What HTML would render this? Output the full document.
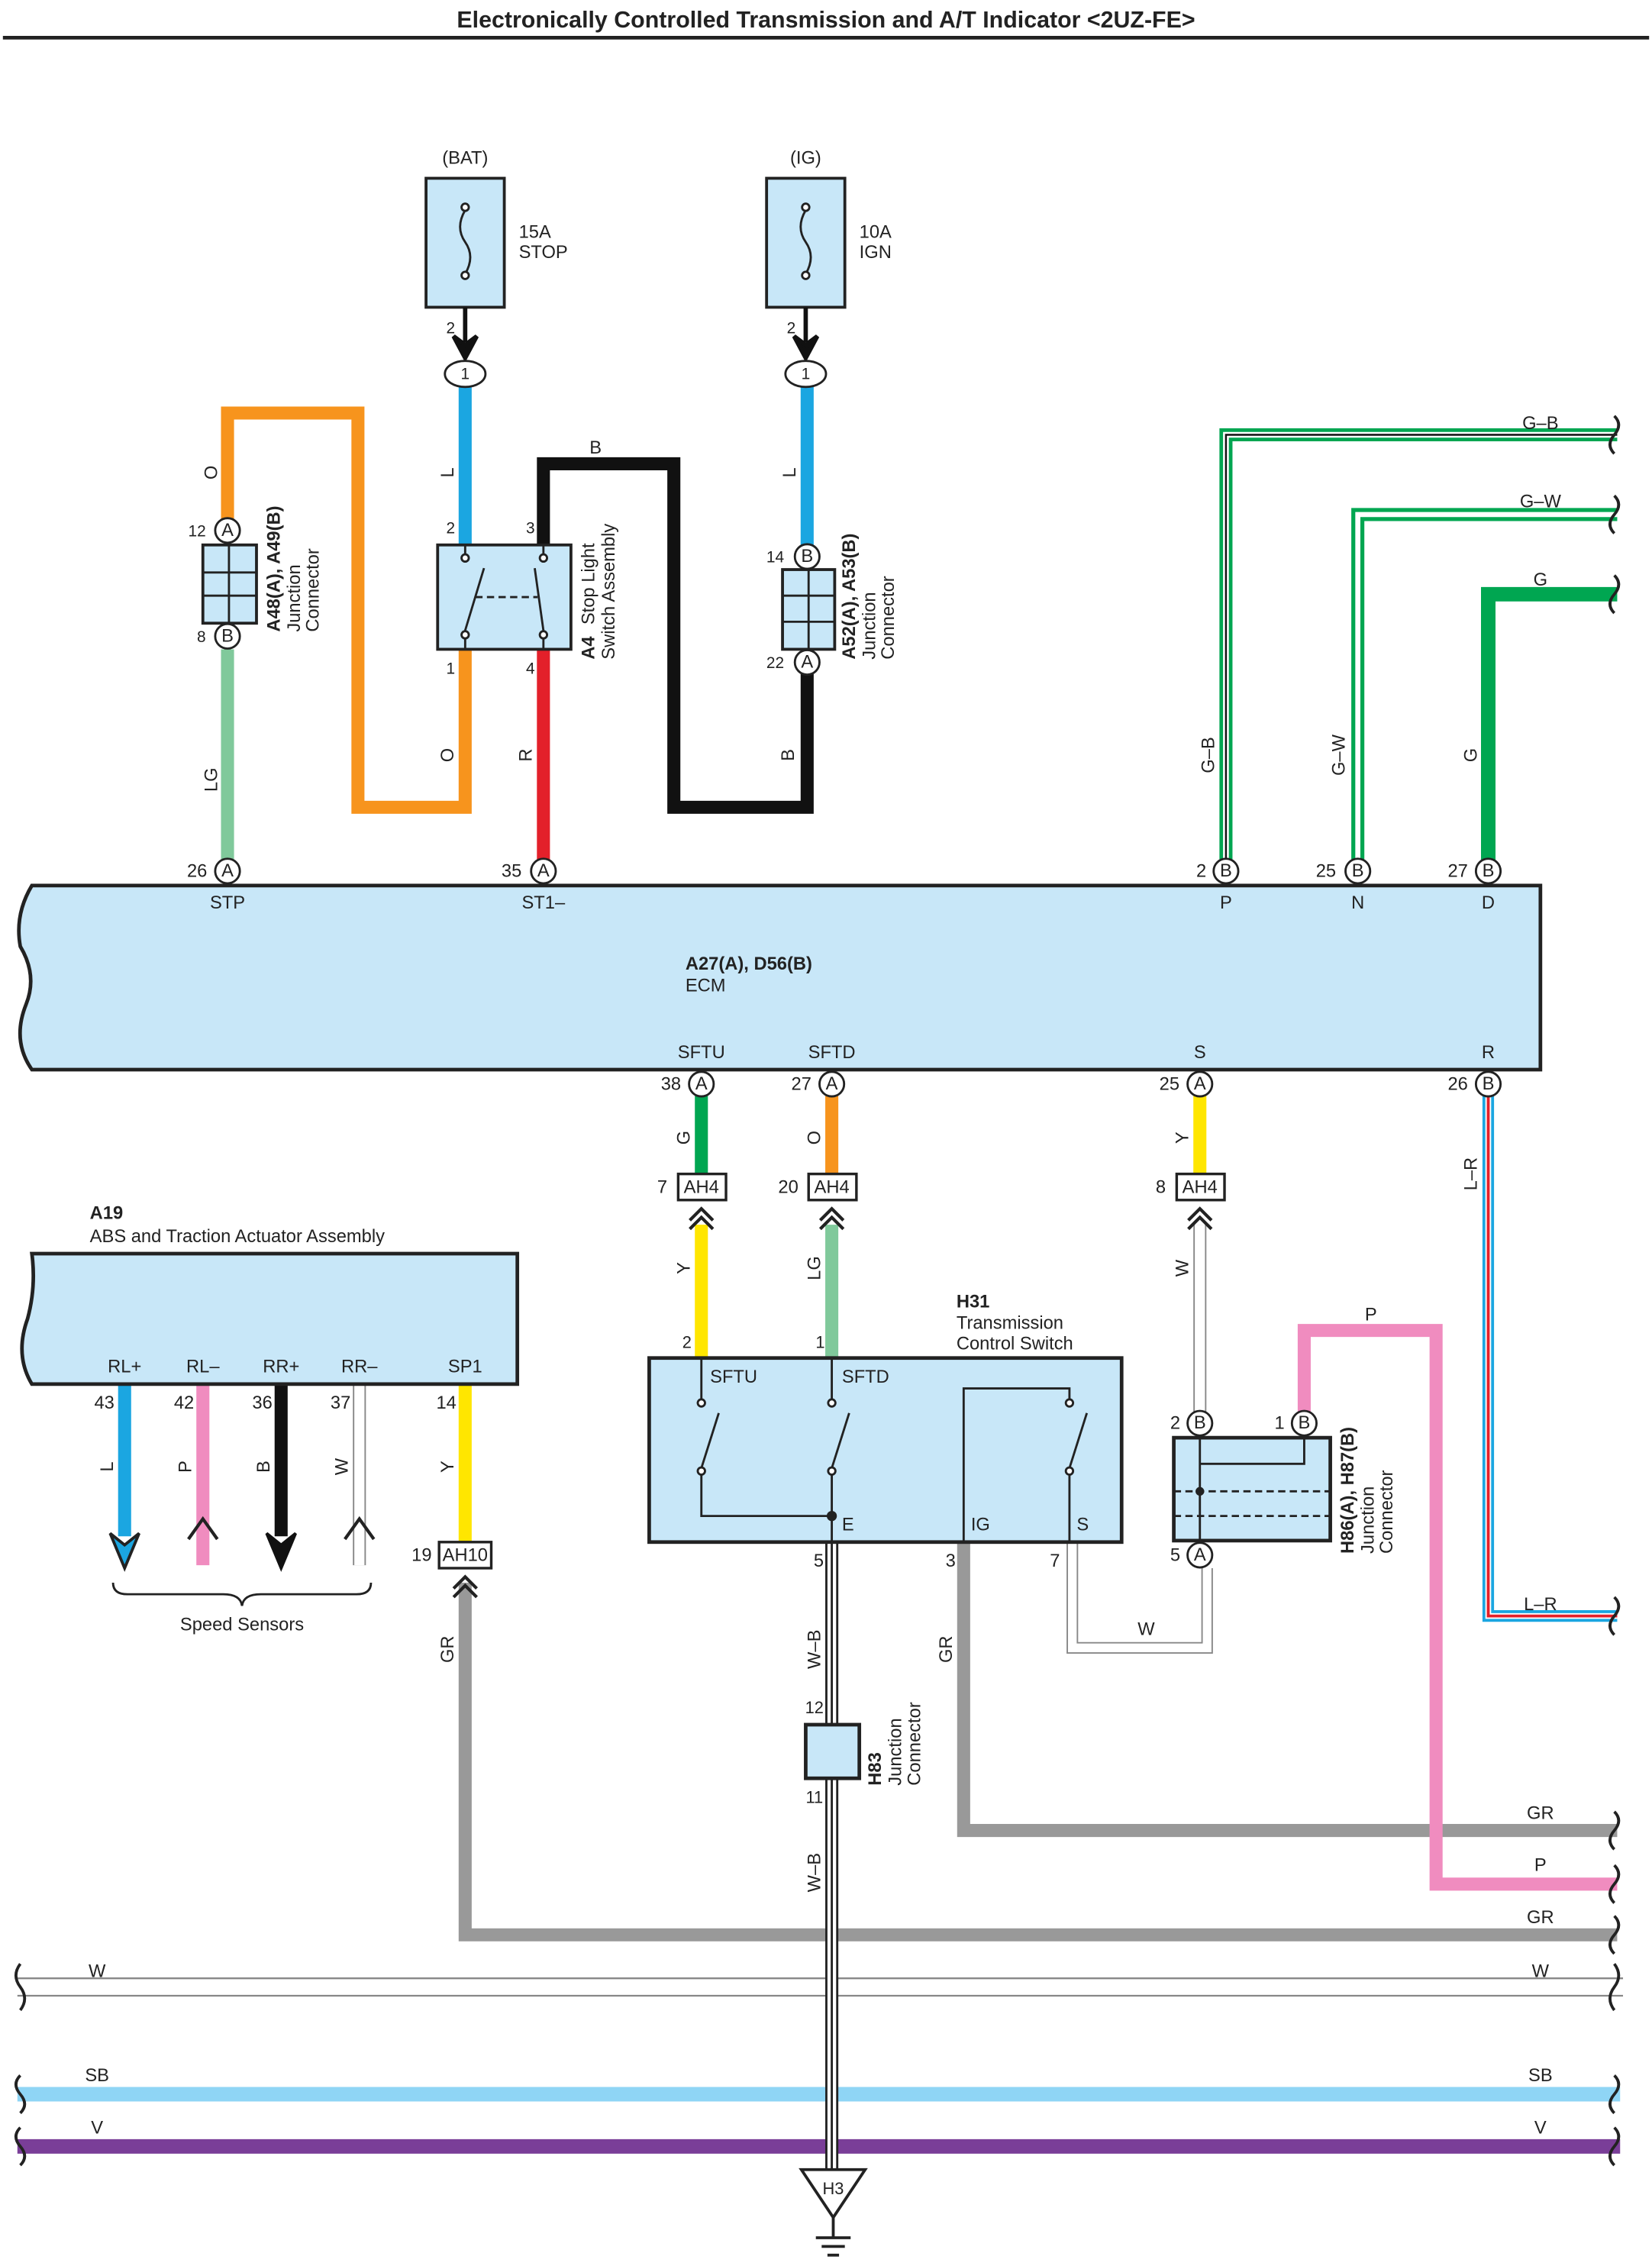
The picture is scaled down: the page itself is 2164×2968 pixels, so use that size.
<!DOCTYPE html>
<html><head><meta charset="utf-8"><style>
html,body{margin:0;padding:0;background:#fff}
svg{display:block}
text{font-family:"Liberation Sans",Arial,sans-serif;font-size:12.5px;fill:#222}
.b{font-weight:bold}
.pin{fill:#fff;stroke:#222;stroke-width:1.5}
.pt{font-size:11px;text-anchor:middle;dominant-baseline:central}
.c{text-anchor:middle}
</style></head><body>
<svg width="2164" height="2968" viewBox="0 0 1140 1563.5" preserveAspectRatio="none" xmlns="http://www.w3.org/2000/svg">
<rect width="1140" height="1563.5" fill="#fff"/>
<text x="570" y="19" class="c b" style="font-size:16px">Electronically Controlled Transmission and A/T Indicator &lt;2UZ-FE&gt;</text>
<line x1="2" y1="26" x2="1138" y2="26" stroke="#222" stroke-width="2.5"/>

<!-- ===== WIRES (drawn first) ===== -->
<g fill="none" stroke-linejoin="miter">
<!-- orange O -->
<path d="M321 448 V557 H247 V285 H157 V366" stroke="#f7941d" stroke-width="9"/>
<!-- blue L BAT -->
<path d="M321 267 V378" stroke="#1ba6e1" stroke-width="9"/>
<!-- blue L IG -->
<path d="M557 267 V378" stroke="#1ba6e1" stroke-width="9"/>
<!-- black B -->
<path d="M375 378 V320 H465 V557 H557 V465" stroke="#111" stroke-width="9"/>
<!-- red R -->
<path d="M375 448 V596" stroke="#e3202a" stroke-width="9"/>
<!-- LG -->
<path d="M157 448 V596" stroke="#80c99b" stroke-width="9"/>
<!-- G-B -->
<path d="M846 596 V300 H1116" stroke="#00a651" stroke-width="9"/>
<path d="M846 596 V300 H1116" stroke="#fff" stroke-width="4"/>
<path d="M846 596 V300 H1116" stroke="#111" stroke-width="1.3"/>
<!-- G-W -->
<path d="M937 596 V355 H1116" stroke="#00a651" stroke-width="9"/>
<path d="M937 596 V355 H1116" stroke="#fff" stroke-width="3.5"/>
<!-- G -->
<path d="M1027 596 V410 H1116" stroke="#00a651" stroke-width="10"/>
<!-- L-R -->
<path d="M1027 755 V1115 H1116" stroke="#1ba6e1" stroke-width="8"/>
<path d="M1027 755 V1115 H1116" stroke="#fff" stroke-width="4"/>
<path d="M1027 755 V1115 H1116" stroke="#e3202a" stroke-width="2"/>
<!-- ECM bottom wires -->
<path d="M484 756 V810" stroke="#00a651" stroke-width="9"/>
<path d="M574 756 V810" stroke="#f7941d" stroke-width="9"/>
<path d="M828 756 V810" stroke="#ffe600" stroke-width="9"/>
<path d="M484 845 V937" stroke="#ffe600" stroke-width="9"/>
<path d="M574 845 V937" stroke="#80c99b" stroke-width="9"/>
<path d="M828 845 V974" stroke="#888" stroke-width="9"/>
<path d="M828 845 V974" stroke="#fff" stroke-width="7"/>
<!-- A19 wires -->
<path d="M86 955 V1060" stroke="#1ba6e1" stroke-width="9"/>
<path d="M140 955 V1080" stroke="#f08cbf" stroke-width="9"/>
<path d="M194 955 V1060" stroke="#111" stroke-width="9"/>
<path d="M248 955 V1080" stroke="#888" stroke-width="9"/>
<path d="M248 955 V1080" stroke="#fff" stroke-width="7"/>
<path d="M321 955 V1064" stroke="#ffe600" stroke-width="9"/>
<!-- GR from AH10 -->
<path d="M321 1092 V1335 H1116" stroke="#999" stroke-width="9"/>
<!-- GR from IG -->
<path d="M665 1064 V1263 H1116" stroke="#999" stroke-width="9"/>
<!-- P pink -->
<path d="M900 974 V918 H991 V1300 H1116" stroke="#f08cbf" stroke-width="9"/>
<!-- W from S -->
<path d="M740 1064 V1137 H833 V1082" stroke="#888" stroke-width="8"/>
<path d="M740 1064 V1137 H833 V1082" stroke="#fff" stroke-width="6"/>
<!-- buses -->
<line x1="12" y1="1365" x2="1120" y2="1365" stroke="#888" stroke-width="1.2"/>
<line x1="12" y1="1377" x2="1120" y2="1377" stroke="#888" stroke-width="1.2"/>
<line x1="12" y1="1445" x2="1118" y2="1445" stroke="#8fd5f5" stroke-width="10"/>
<line x1="12" y1="1481" x2="1118" y2="1481" stroke="#7a3e98" stroke-width="10"/>
<!-- W-B ground wire -->
<path d="M574 1064 V1190 M574 1227 V1497" stroke="#222" stroke-width="9"/>
<path d="M574 1064 V1190 M574 1227 V1497" stroke="#fff" stroke-width="6"/>
<path d="M574 1064 V1190 M574 1227 V1497" stroke="#222" stroke-width="1.5"/>
</g>

<!-- wavy break marks -->
<g fill="none" stroke="#222" stroke-width="2">
<path d="M1114 287 q6 6 0 13 q-6 7 0 13"/>
<path d="M1114 342 q6 6 0 13 q-6 7 0 13"/>
<path d="M1114 397 q6 6 0 13 q-6 7 0 13"/>
<path d="M1114 1102 q6 6 0 13 q-6 7 0 13"/>
<path d="M1114 1250 q6 6 0 13 q-6 7 0 13"/>
<path d="M1114 1287 q6 6 0 13 q-6 7 0 13"/>
<path d="M1114 1322 q6 6 0 13 q-6 7 0 13"/>
<path d="M1114 1355 q6 8 0 16 q-6 8 0 16"/>
<path d="M1114 1432 q6 6 0 13 q-6 7 0 13"/>
<path d="M1114 1468 q6 6 0 13 q-6 7 0 13"/>
<path d="M14 1355 q-6 8 0 16 q6 8 0 16"/>
<path d="M14 1432 q-6 6 0 13 q6 7 0 13"/>
<path d="M14 1468 q-6 6 0 13 q6 7 0 13"/>
</g>

<!-- ===== FUSES ===== -->
<g stroke="#222" stroke-width="2">
<rect x="294" y="123" width="54" height="89" fill="#c8e7f8"/>
<rect x="529" y="123" width="54" height="89" fill="#c8e7f8"/>
</g>
<g fill="none" stroke="#222" stroke-width="1.5">
<path d="M321 145 q-7 12 0 22 q7 10 0 22"/>
<path d="M556 145 q-7 12 0 22 q7 10 0 22"/>
</g>
<g class="pin"><circle cx="321" cy="143" r="2.5"/><circle cx="321" cy="190" r="2.5"/><circle cx="556" cy="143" r="2.5"/><circle cx="556" cy="190" r="2.5"/></g>
<text x="321" y="113" class="c">(BAT)</text><text x="556" y="113" class="c">(IG)</text>
<text x="358" y="164">15A</text><text x="358" y="178">STOP</text>
<text x="593" y="164">10A</text><text x="593" y="178">IGN</text>
<text x="311" y="230" class="c" style="font-size:11px">2</text><text x="546" y="230" class="c" style="font-size:11px">2</text>
<g stroke="#111" stroke-width="3" fill="#111">
<line x1="321" y1="212" x2="321" y2="236"/><path d="M313 232 L321 247 L329 232 L321 238Z"/>
<line x1="556" y1="212" x2="556" y2="236"/><path d="M548 232 L556 247 L564 232 L556 238Z"/>
</g>
<ellipse cx="321" cy="258" rx="14" ry="9" class="pin" stroke-width="2"/><text x="321" y="258" class="pt">1</text>
<ellipse cx="556" cy="258" rx="14" ry="9" class="pin" stroke-width="2"/><text x="556" y="258" class="pt">1</text>

<!-- ===== A4 switch ===== -->
<rect x="302" y="376" width="92" height="72" fill="#c8e7f8" stroke="#222" stroke-width="2"/>
<g fill="none" stroke="#222" stroke-width="1.5">
<line x1="321" y1="376" x2="321" y2="385"/><line x1="321" y1="438" x2="321" y2="448"/>
<line x1="375" y1="376" x2="375" y2="385"/><line x1="375" y1="438" x2="375" y2="448"/>
<line x1="321" y1="435" x2="334" y2="392"/><line x1="375" y1="435" x2="369" y2="392"/>
<line x1="328" y1="412" x2="371" y2="412" stroke-dasharray="5 3"/>
</g>
<g class="pin"><circle cx="321" cy="385" r="2.5"/><circle cx="321" cy="438" r="2.5"/><circle cx="375" cy="385" r="2.5"/><circle cx="375" cy="438" r="2.5"/></g>
<text x="311" y="368" class="c" style="font-size:11px">2</text><text x="366" y="368" class="c" style="font-size:11px">3</text>
<text x="311" y="465" class="c" style="font-size:11px">1</text><text x="366" y="465" class="c" style="font-size:11px">4</text>
<g transform="translate(410,455) rotate(-90)"><text x="0" y="0" class="b">A4</text><text x="24" y="0">Stop Light</text><text x="0" y="14">Switch Assembly</text></g>

<!-- ===== A48 junction ===== -->
<rect x="140" y="376" width="37" height="54" fill="#c8e7f8" stroke="#222" stroke-width="2"/>
<g stroke="#222" stroke-width="1.5"><line x1="158" y1="376" x2="158" y2="430"/><line x1="140" y1="395" x2="177" y2="395"/><line x1="140" y1="411" x2="177" y2="411"/></g>
<g transform="translate(193,436) rotate(-90)"><text x="0" y="0" class="b">A48(A), A49(B)</text><text x="0" y="14">Junction</text><text x="0" y="27">Connector</text></g>
<text x="136" y="370" class="c" style="font-size:11px">12</text><text x="139" y="443" class="c" style="font-size:11px">8</text>

<!-- ===== A52 junction ===== -->
<rect x="540" y="393" width="36" height="55" fill="#c8e7f8" stroke="#222" stroke-width="2"/>
<g stroke="#222" stroke-width="1.5"><line x1="558" y1="393" x2="558" y2="448"/><line x1="540" y1="411" x2="576" y2="411"/><line x1="540" y1="429" x2="576" y2="429"/></g>
<g transform="translate(590,455) rotate(-90)"><text x="0" y="0" class="b">A52(A), A53(B)</text><text x="0" y="14">Junction</text><text x="0" y="27">Connector</text></g>
<text x="535" y="388" class="c" style="font-size:11px">14</text><text x="535" y="461" class="c" style="font-size:11px">22</text>

<!-- wire labels rotated -->
<g style="font-size:11.5px">
<text transform="translate(150,326) rotate(-90)" class="c">O</text>
<text transform="translate(313,326) rotate(-90)" class="c">L</text>
<text transform="translate(549,326) rotate(-90)" class="c">L</text>
<text transform="translate(150,538) rotate(-90)" class="c">LG</text>
<text transform="translate(313,521) rotate(-90)" class="c">O</text>
<text transform="translate(367,521) rotate(-90)" class="c">R</text>
<text transform="translate(548,521) rotate(-90)" class="c">B</text>
<text transform="translate(838,521) rotate(-90)" class="c">G–B</text>
<text transform="translate(928,521) rotate(-90)" class="c">G–W</text>
<text transform="translate(1019,521) rotate(-90)" class="c">G</text>
<text transform="translate(476,785) rotate(-90)" class="c">G</text>
<text transform="translate(566,785) rotate(-90)" class="c">O</text>
<text transform="translate(820,785) rotate(-90)" class="c">Y</text>
<text transform="translate(1019,810) rotate(-90)" class="c">L–R</text>
<text transform="translate(476,875) rotate(-90)" class="c">Y</text>
<text transform="translate(566,875) rotate(-90)" class="c">LG</text>
<text transform="translate(820,875) rotate(-90)" class="c">W</text>
<text transform="translate(78,1012) rotate(-90)" class="c">L</text>
<text transform="translate(132,1012) rotate(-90)" class="c">P</text>
<text transform="translate(186,1012) rotate(-90)" class="c">B</text>
<text transform="translate(240,1012) rotate(-90)" class="c">W</text>
<text transform="translate(313,1012) rotate(-90)" class="c">Y</text>
<text transform="translate(313,1138) rotate(-90)" class="c">GR</text>
<text transform="translate(566,1138) rotate(-90)" class="c">W–B</text>
<text transform="translate(566,1292) rotate(-90)" class="c">W–B</text>
<text transform="translate(657,1138) rotate(-90)" class="c">GR</text>
</g>
<text x="411" y="313" class="c">B</text>
<text x="1063" y="296" class="c">G–B</text><text x="1063" y="350" class="c">G–W</text><text x="1063" y="404" class="c">G</text>
<text x="946" y="911" class="c">P</text><text x="791" y="1128" class="c">W</text>
<text x="1063" y="1111" class="c">L–R</text>
<text x="1063" y="1255" class="c">GR</text><text x="1063" y="1291" class="c">P</text><text x="1063" y="1327" class="c">GR</text>
<text x="67" y="1364" class="c">W</text><text x="1063" y="1364" class="c">W</text>
<text x="67" y="1436" class="c">SB</text><text x="1063" y="1436" class="c">SB</text>
<text x="67" y="1472" class="c">V</text><text x="1063" y="1472" class="c">V</text>

<!-- ===== ECM ===== -->
<path d="M22 611 H1063 V738 H22 q-14 -20 -4 -45 q8 -20 -4 -40 q-4 -22 8 -42Z" fill="#c8e7f8" stroke="#222" stroke-width="2.5"/>
<text x="473" y="669" class="b">A27(A), D56(B)</text><text x="473" y="684">ECM</text>
<g class="c">
<text x="157" y="627">STP</text><text x="375" y="627">ST1–</text><text x="846" y="627">P</text><text x="937" y="627">N</text><text x="1027" y="627">D</text>
<text x="484" y="730">SFTU</text><text x="574" y="730">SFTD</text><text x="828" y="730">S</text><text x="1027" y="730">R</text>
</g>
<g style="font-size:11.5px" class="c">
<text x="136" y="605">26</text><text x="353" y="605">35</text><text x="829" y="605">2</text><text x="915" y="605">25</text><text x="1006" y="605">27</text>
<text x="463" y="752">38</text><text x="553" y="752">27</text><text x="807" y="752">25</text><text x="1006" y="752">26</text>
</g>

<!-- AH4 / AH10 boxes and chevrons -->
<g stroke="#222" stroke-width="1.8" fill="#fff">
<rect x="468" y="810" width="33" height="18"/><rect x="558" y="810" width="33" height="18"/><rect x="812" y="810" width="33" height="18"/><rect x="303" y="1064" width="36" height="18"/>
</g>
<g style="font-size:11.5px" class="c"><text x="484" y="823">AH4</text><text x="574" y="823">AH4</text><text x="828" y="823">AH4</text><text x="321" y="1077">AH10</text>
<text x="457" y="823">7</text><text x="544" y="823">20</text><text x="801" y="823">8</text><text x="291" y="1077">19</text></g>
<g fill="none" stroke="#222" stroke-width="2.2">
<path d="M476 842 l8 -8 l8 8 M476 848 l8 -8 l8 8"/>
<path d="M566 842 l8 -8 l8 8 M566 848 l8 -8 l8 8"/>
<path d="M820 842 l8 -8 l8 8 M820 848 l8 -8 l8 8"/>
<path d="M313 1096 l8 -8 l8 8 M313 1102 l8 -8 l8 8"/>
</g>

<!-- ===== A19 ===== -->
<path d="M22 865 H357 V955 H22 q-12 -20 -3 -45 q6 -22 3 -45Z" fill="#c8e7f8" stroke="#222" stroke-width="2.5"/>
<text x="62" y="841" class="b">A19</text><text x="62" y="857">ABS and Traction Actuator Assembly</text>
<g class="c"><text x="86" y="947">RL+</text><text x="140" y="947">RL–</text><text x="194" y="947">RR+</text><text x="248" y="947">RR–</text><text x="321" y="947">SP1</text></g>
<g style="font-size:11.5px" class="c"><text x="72" y="972">43</text><text x="127" y="972">42</text><text x="181" y="972">36</text><text x="235" y="972">37</text><text x="308" y="972">14</text></g>
<g fill="#111" stroke="#111" stroke-width="2">
<path d="M76 1058 L86 1082 L96 1058 L86 1066Z" fill="#1ba6e1" stroke="#222"/>
<path d="M184 1058 L194 1082 L204 1058 L194 1066Z"/>
</g>
<g fill="none" stroke="#222" stroke-width="2.2"><path d="M130 1062 l10 -14 l10 14"/><path d="M238 1062 l10 -14 l10 14"/></g>
<path d="M78 1092 q0 8 10 8 h66 q12 0 13 8 q1 -8 13 -8 h66 q10 0 10 -8" fill="none" stroke="#222" stroke-width="1.5"/>
<text x="167" y="1125" class="c">Speed Sensors</text>

<!-- ===== H31 ===== -->
<rect x="448" y="937" width="326" height="127" fill="#c8e7f8" stroke="#222" stroke-width="2.5"/>
<text x="660" y="902" class="b">H31</text><text x="660" y="917">Transmission</text><text x="660" y="931">Control Switch</text>
<text x="474" y="930" class="c" style="font-size:11.5px">2</text><text x="566" y="930" class="c" style="font-size:11.5px">1</text>
<text x="490" y="954">SFTU</text><text x="581" y="954">SFTD</text><text x="581" y="1056">E</text><text x="670" y="1056">IG</text><text x="743" y="1056">S</text>
<g fill="none" stroke="#222" stroke-width="1.5">
<path d="M484 937 V967 M484 1015 V1046 H574 M574 937 V967 M574 1015 V1064"/>
<line x1="484" y1="1013" x2="496" y2="975"/><line x1="574" y1="1013" x2="586" y2="975"/>
<path d="M665 1064 V958 H738 V967 M738 1015 V1064"/><line x1="738" y1="1013" x2="750" y2="975"/>
</g>
<g class="pin"><circle cx="484" cy="968" r="2.5"/><circle cx="484" cy="1015" r="2.5"/><circle cx="574" cy="968" r="2.5"/><circle cx="574" cy="1015" r="2.5"/><circle cx="738" cy="968" r="2.5"/><circle cx="738" cy="1015" r="2.5"/></g>
<circle cx="574" cy="1046" r="3.5" fill="#222"/>
<g style="font-size:11.5px" class="c"><text x="565" y="1081">5</text><text x="656" y="1081">3</text><text x="728" y="1081">7</text></g>

<!-- ===== H86 ===== -->
<rect x="810" y="992" width="108" height="71" fill="#c8e7f8" stroke="#222" stroke-width="2.5"/>
<g fill="none" stroke="#222" stroke-width="1.5">
<path d="M828 992 V1063 M900 992 V1010 H828"/>
<line x1="810" y1="1029" x2="918" y2="1029" stroke-dasharray="5 3"/>
<line x1="810" y1="1046" x2="918" y2="1046" stroke-dasharray="5 3"/>
</g>
<circle cx="828" cy="1029" r="3" fill="#222"/>
<g style="font-size:11.5px" class="c"><text x="811" y="986">2</text><text x="883" y="986">1</text><text x="811" y="1077">5</text></g>
<g transform="translate(934,1072) rotate(-90)"><text x="0" y="0" class="b">H86(A), H87(B)</text><text x="0" y="14">Junction</text><text x="0" y="27">Connector</text></g>

<!-- ===== H83 ===== -->
<rect x="556" y="1190" width="37" height="37" fill="#c8e7f8" stroke="#222" stroke-width="2.5"/>
<text x="562" y="1182" class="c" style="font-size:11.5px">12</text><text x="562" y="1244" class="c" style="font-size:11.5px">11</text>
<g transform="translate(608,1232) rotate(-90)"><text x="0" y="0" class="b">H83</text><text x="0" y="14">Junction</text><text x="0" y="27">Connector</text></g>

<!-- ground H3 -->
<path d="M553 1497 H597 L575 1530Z" fill="#fff" stroke="#222" stroke-width="2"/>
<text x="575" y="1514" class="c" style="font-size:11.5px">H3</text>
<g stroke="#222" stroke-width="2"><line x1="575" y1="1530" x2="575" y2="1544"/><line x1="563" y1="1544" x2="587" y2="1544"/><line x1="567" y1="1550" x2="583" y2="1550"/><line x1="571" y1="1556" x2="579" y2="1556"/></g>

<!-- ===== pin circles ===== -->
<g class="pin">
<circle cx="157" cy="366" r="8.5"/><circle cx="157" cy="439" r="8.5"/>
<circle cx="557" cy="384" r="8.5"/><circle cx="557" cy="457" r="8.5"/>
<circle cx="157" cy="601" r="8.5"/><circle cx="375" cy="601" r="8.5"/><circle cx="846" cy="601" r="8.5"/><circle cx="937" cy="601" r="8.5"/><circle cx="1027" cy="601" r="8.5"/>
<circle cx="484" cy="748" r="8.5"/><circle cx="574" cy="748" r="8.5"/><circle cx="828" cy="748" r="8.5"/><circle cx="1027" cy="748" r="8.5"/>
<circle cx="828" cy="982" r="8.5"/><circle cx="900" cy="982" r="8.5"/><circle cx="828" cy="1073" r="8.5"/>
</g>
<g class="pt">
<text x="157" y="366">A</text><text x="157" y="439">B</text><text x="557" y="384">B</text><text x="557" y="457">A</text>
<text x="157" y="601">A</text><text x="375" y="601">A</text><text x="846" y="601">B</text><text x="937" y="601">B</text><text x="1027" y="601">B</text>
<text x="484" y="748">A</text><text x="574" y="748">A</text><text x="828" y="748">A</text><text x="1027" y="748">B</text>
<text x="828" y="982">B</text><text x="900" y="982">B</text><text x="828" y="1073">A</text>
</g>
</svg>
</body></html>
